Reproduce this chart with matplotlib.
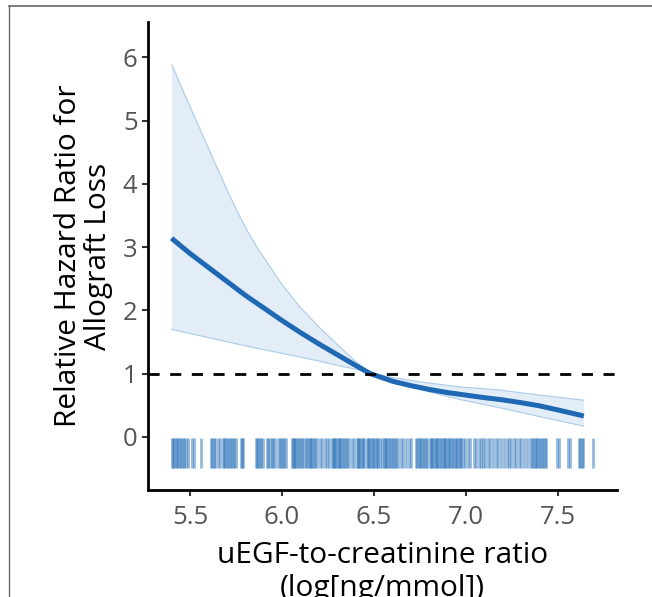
import numpy as np
import matplotlib
matplotlib.use("Agg")
import matplotlib.pyplot as plt
from matplotlib.lines import Line2D

plt.rcParams['font.family'] = ['Open Sans', 'DejaVu Sans']

# fitted relative hazard (centre line)
x_fit = [5.4, 5.5, 5.6, 5.7, 5.8, 5.9, 6.0, 6.1, 6.2, 6.3, 6.4, 6.48, 6.6,
         6.7, 6.8, 6.9, 7.0, 7.1, 7.2, 7.3, 7.4, 7.5, 7.64]
hr_fit = [3.14, 2.90, 2.68, 2.46, 2.24, 2.04, 1.84, 1.65, 1.47, 1.30, 1.13,
          1.00, 0.88, 0.81, 0.75, 0.70, 0.66, 0.62, 0.585, 0.54, 0.49, 0.425, 0.33]

# upper confidence limit
x_up = [5.402, 5.473, 5.554, 5.636, 5.707, 5.761, 5.815, 5.870, 5.935, 6.005,
        6.098, 6.207, 6.315, 6.397, 6.478, 6.6, 6.75, 6.967, 7.185, 7.4, 7.64]
hr_up = [5.88, 5.40, 4.87, 4.33, 3.87, 3.54, 3.24, 2.97, 2.69, 2.39,
         2.05, 1.72, 1.42, 1.20, 1.01, 0.94, 0.87, 0.79, 0.74, 0.66, 0.58]

# lower confidence limit
x_lo = [5.402, 5.6, 5.8, 6.0, 6.2, 6.3, 6.4, 6.478, 6.6, 6.75, 6.967, 7.185,
        7.4, 7.64]
hr_lo = [1.70, 1.57, 1.44, 1.32, 1.20, 1.13, 1.07, 1.01, 0.89, 0.75, 0.59,
         0.46, 0.32, 0.17]

# observed uEGF/creatinine values (rug)
rug = [
    5.402, 5.408, 5.415, 5.424, 5.430, 5.437, 5.446, 5.452, 5.462, 5.470,
    5.478, 5.489, 5.511, 5.522,
    5.560,
    5.614, 5.620, 5.628, 5.636, 5.652, 5.663,
    5.679, 5.686, 5.690, 5.700, 5.707, 5.716, 5.723, 5.734, 5.739, 5.750,
    5.777, 5.785, 5.788,
    5.859, 5.864, 5.870, 5.880, 5.886, 5.897,
    5.918, 5.926, 5.935, 5.945, 5.951, 5.962,
    5.978, 5.988, 5.995, 6.004, 6.011, 6.022,
    6.052, 6.058, 6.064, 6.070, 6.078, 6.086, 6.095, 6.103, 6.110, 6.120,
    6.128, 6.137, 6.148, 6.152, 6.158, 6.165, 6.172, 6.178, 6.190, 6.205,
    6.218, 6.232, 6.245, 6.258, 6.270, 6.276, 6.283, 6.290, 6.296, 6.303,
    6.310, 6.316, 6.323, 6.330, 6.338, 6.345, 6.352, 6.365, 6.378, 6.392,
    6.405, 6.412, 6.418, 6.425, 6.432, 6.440, 6.447, 6.460, 6.466, 6.472,
    6.480, 6.487, 6.494, 6.500, 6.508, 6.515, 6.522, 6.530,
    6.545, 6.552, 6.558, 6.566, 6.573, 6.580, 6.588, 6.596, 6.604, 6.612,
    6.620, 6.632, 6.645, 6.660, 6.675, 6.690, 6.700,
    6.730, 6.736, 6.742, 6.750, 6.757, 6.765, 6.772, 6.780, 6.790, 6.802,
    6.808, 6.815, 6.822, 6.830, 6.836, 6.843, 6.850, 6.857, 6.864, 6.872,
    6.880, 6.886, 6.893, 6.900, 6.908, 6.915, 6.922, 6.930, 6.938, 6.945,
    6.952, 6.960, 6.968, 6.975, 6.983, 6.995, 7.008, 7.020,
    7.045, 7.056, 7.068, 7.080, 7.092, 7.105, 7.118, 7.130, 7.145, 7.160,
    7.175, 7.190, 7.205, 7.220,
    7.232, 7.245, 7.258, 7.270, 7.285, 7.300, 7.315, 7.330, 7.345, 7.360,
    7.366, 7.372, 7.380, 7.388, 7.396, 7.404, 7.412, 7.420, 7.428, 7.436,
    7.492, 7.505,
    7.555, 7.562,
    7.612, 7.620, 7.630, 7.638,
    7.690,
]

xticks = [5.5, 6.0, 6.5, 7.0, 7.5]
yticks = [0, 1, 2, 3, 4, 5, 6]

fig = plt.figure(figsize=(6.52, 5.97), dpi=100)
ax = fig.add_axes([148 / 652, 1 - 490 / 597, 469 / 652, 468 / 597])

# ribbon
poly_x = list(x_up) + list(x_lo[::-1])
poly_y = list(hr_up) + list(hr_lo[::-1])
ax.fill(poly_x, poly_y, color='#e2edf7', lw=0)
ax.plot(x_up, hr_up, color='#a9cbe8', lw=0.8)
ax.plot(x_lo, hr_lo, color='#a9cbe8', lw=0.8)

ax.plot(x_fit, hr_fit, color='#1f68b3', lw=3.6, solid_capstyle='butt')

ax.axhline(1, color='black', lw=2, dashes=(4, 3.8))

ax.vlines(rug, -0.5, -0.02, color='#2a72b8', alpha=0.5, lw=2.0)

ax.set_xlim(5.272, 7.82)
ax.set_ylim(-0.84, 6.56)
ax.set_xticks(xticks)
ax.set_xticklabels(['%.1f' % t for t in xticks])
ax.set_yticks(yticks)

for s in ['top', 'right']:
    ax.spines[s].set_visible(False)
for s in ['left', 'bottom']:
    ax.spines[s].set_linewidth(2)
    ax.spines[s].set_color('black')

ax.tick_params(axis='both', length=4.5, width=1.5, color='#333333',
               labelsize=18.5, labelcolor='#555555')
ax.tick_params(axis='x', pad=6)
ax.tick_params(axis='y', pad=3)

ax.set_ylabel('Relative Hazard Ratio for\nAllograft Loss', fontsize=21.5,
              color='black', labelpad=7, linespacing=1.05)
ax.set_xlabel('uEGF-to-creatinine ratio\n(log[ng/mmol])', fontsize=21.5,
              color='black', labelpad=8, linespacing=1.2)

# grey frame of the cropped screenshot
fig.add_artist(Line2D([9 / 652, 1.0], [1 - 6 / 597, 1 - 6 / 597],
                      transform=fig.transFigure, color='#666666', lw=1.2))
fig.add_artist(Line2D([9 / 652, 9 / 652], [0, 1 - 6 / 597],
                      transform=fig.transFigure, color='#666666', lw=1.0))

fig.savefig('out.png', dpi=100)
